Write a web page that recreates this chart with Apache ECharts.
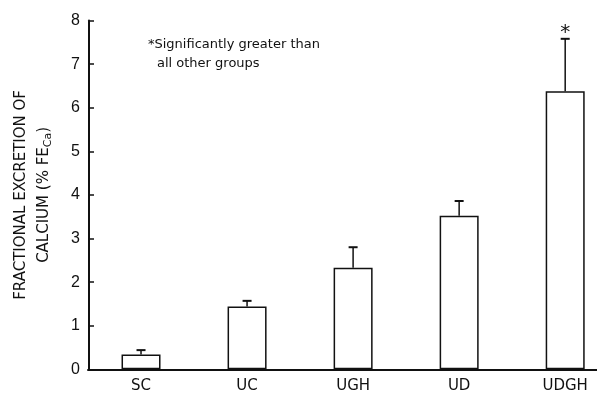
<!DOCTYPE html>
<html>
<head>
<meta charset="utf-8">
<script src="https://cdn.jsdelivr.net/npm/echarts@6/dist/echarts.min.js"></script>
<style>
html,body{margin:0;padding:0;background:#fff;}
#chart{width:597px;height:393px;}
</style>
</head>
<body>
<div id="chart"></div>
<script>
const categories = ['SC', 'UC', 'UGH', 'UD', 'UDGH'];
const means = [0.34, 1.44, 2.33, 3.52, 6.38];
const upperErrors = [0.44, 1.57, 2.80, 3.86, 7.58];
const significance = ['', '', '', '', '*'];
const yMin = 0, yMax = 8, yStep = 1;
const yTitle = 'FRACTIONAL EXCRETION OF\nCALCIUM (% FE{sub|Ca})';
const noteLines = ['*Significantly greater than', 'all other groups'];

// category positions on a numeric x scale (the chart's last band is cut by the frame)
const xMin = -0.5, xMax = 4.3, xStep = 0.5;

const ink = '#111';
const chart = echarts.init(document.getElementById('chart'), null, {renderer: 'canvas'});

chart.setOption({
  animation: false,
  backgroundColor: '#fff',
  grid: {left: 88, right: 0, top: 20.5, bottom: 23.7, outerBoundsMode: 'none', containLabel: false},
  graphic: [
    {type: 'text', left: 148, top: 38, style: {text: noteLines[0], font: '13px "DejaVu Sans"', fill: ink}},
    {type: 'text', left: 157, top: 57, style: {text: noteLines[1], font: '13px "DejaVu Sans"', fill: ink}}
  ],
  xAxis: {
    type: 'value',
    min: xMin, max: xMax, interval: xStep,
    splitLine: {show: false},
    axisLine: {onZero: false, lineStyle: {color: ink, width: 2}},
    axisTick: {show: false},
    axisLabel: {
      color: ink, fontFamily: 'DejaVu Sans', fontSize: 15, margin: 9,
      showMinLabel: true, showMaxLabel: true,
      formatter: function (v) {
        return (Number.isInteger(v) && categories[v] !== undefined) ? categories[v] : '';
      }
    }
  },
  yAxis: {
    type: 'value',
    min: yMin, max: yMax, interval: yStep,
    offset: -1,
    splitLine: {show: false},
    axisLine: {show: true, onZero: false, lineStyle: {color: ink, width: 2}},
    axisTick: {show: true, inside: true, length: 5, lineStyle: {color: ink, width: 1.5}},
    axisLabel: {color: ink, fontFamily: 'Liberation Sans', fontSize: 16, margin: 9},
    name: yTitle,
    nameLocation: 'middle',
    nameRotate: 90,
    nameGap: 33,
    nameTextStyle: {
      color: ink, fontFamily: 'DejaVu Sans', fontSize: 15, lineHeight: 23, align: 'center',
      rich: {sub: {fontFamily: 'DejaVu Sans', fontSize: 11, color: ink, padding: [8, 0, 0, 0]}}
    }
  },
  series: [
    {
      type: 'bar',
      data: means.map((m, i) => [i, m]),
      barWidth: 39,
      itemStyle: {color: '#fff', borderColor: ink, borderWidth: 1.5},
      z: 2
    },
    {
      type: 'custom',
      data: means.map((m, i) => [i, m, upperErrors[i]]),
      z: 3,
      renderItem: function (params, api) {
        const i = api.value(0);
        const base = api.coord([i, api.value(1)]);
        const top = api.coord([i, api.value(2)]);
        const half = 4.5;
        const children = [
          {type: 'line', shape: {x1: base[0], y1: base[1], x2: top[0], y2: top[1]}, style: {stroke: ink, lineWidth: 1.5}},
          {type: 'line', shape: {x1: top[0] - half, y1: top[1], x2: top[0] + half, y2: top[1]}, style: {stroke: ink, lineWidth: 2}}
        ];
        const mark = significance[params.dataIndex];
        if (mark) {
          children.push({type: 'text', x: top[0], y: top[1] - 6.5,
            style: {text: mark, font: '20px "DejaVu Sans"', fill: ink, align: 'center', verticalAlign: 'middle'}});
        }
        return {type: 'group', children: children};
      }
    }
  ]
});
</script>
</body>
</html>
